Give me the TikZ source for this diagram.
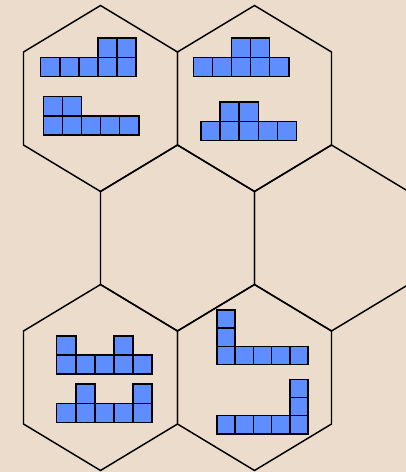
\documentclass[tikz,border=0pt]{standalone}
\usepackage{tikz}
\definecolor{fondo}{HTML}{ECDCCB}
\definecolor{pieza}{HTML}{5E8DFF}
\tikzset{
  hexa/.style={draw=black,line width=1.1pt,line join=miter},
  celda/.style={draw=black,fill=pieza,line width=1.1pt},
}
\begin{document}
\begin{tikzpicture}[x=0.75pt,y=-0.75pt]
\fill[fondo] (0,0) rectangle (406,472);
\clip (0,0) rectangle (406,472);
% honeycomb
\foreach \cx/\cy in {100.5/98.5,254.5/98.5,177.5/238,331.5/238,100.5/377.5,254.5/377.5}
  \draw[hexa] (\cx,\cy-93) -- (\cx+77,\cy-46.5) -- (\cx+77,\cy+46.5) -- (\cx,\cy+93)
    -- (\cx-77,\cy+46.5) -- (\cx-77,\cy-46.5) -- cycle;
% pieces, top left
\def\lado{19.1}
\begin{scope}[shift={(40.7,38.2)}]
\foreach \c/\r in {0/1,1/1,2/1,3/1,4/1,3/0,4/0}
  \draw[celda] (\c*\lado,\r*\lado) rectangle ++(\lado,\lado);
\end{scope}
\begin{scope}[shift={(43.3,96.7)}]
\foreach \c/\r in {0/0,1/0,0/1,1/1,2/1,3/1,4/1}
  \draw[celda] (\c*\lado,\r*\lado) rectangle ++(\lado,\lado);
\end{scope}
% pieces, top right
\begin{scope}[shift={(193.3,38.2)}]
\foreach \c/\r in {0/1,1/1,2/1,3/1,4/1,2/0,3/0}
  \draw[celda] (\c*\lado,\r*\lado) rectangle ++(\lado,\lado);
\end{scope}
\begin{scope}[shift={(201,102.2)}]
\foreach \c/\r in {0/1,1/1,2/1,3/1,4/1,1/0,2/0}
  \draw[celda] (\c*\lado,\r*\lado) rectangle ++(\lado,\lado);
\end{scope}
% pieces, bottom left
\begin{scope}[shift={(56.7,335.8)}]
\foreach \c/\r in {0/1,1/1,2/1,3/1,4/1,0/0,3/0}
  \draw[celda] (\c*\lado,\r*\lado) rectangle ++(\lado,\lado);
\end{scope}
\begin{scope}[shift={(56.7,384.2)}]
\foreach \c/\r in {0/1,1/1,2/1,3/1,4/1,1/0,4/0}
  \draw[celda] (\c*\lado,\r*\lado) rectangle ++(\lado,\lado);
\end{scope}
% pieces, bottom right
\def\lado{18.2}
\begin{scope}[shift={(217,310)}]
\foreach \c/\r in {0/0,0/1,0/2,1/2,2/2,3/2,4/2}
  \draw[celda] (\c*\lado,\r*\lado) rectangle ++(\lado,\lado);
\end{scope}
\begin{scope}[shift={(217,379.3)}]
\foreach \c/\r in {4/0,4/1,0/2,1/2,2/2,3/2,4/2}
  \draw[celda] (\c*\lado,\r*\lado) rectangle ++(\lado,\lado);
\end{scope}
\end{tikzpicture}
\end{document}
